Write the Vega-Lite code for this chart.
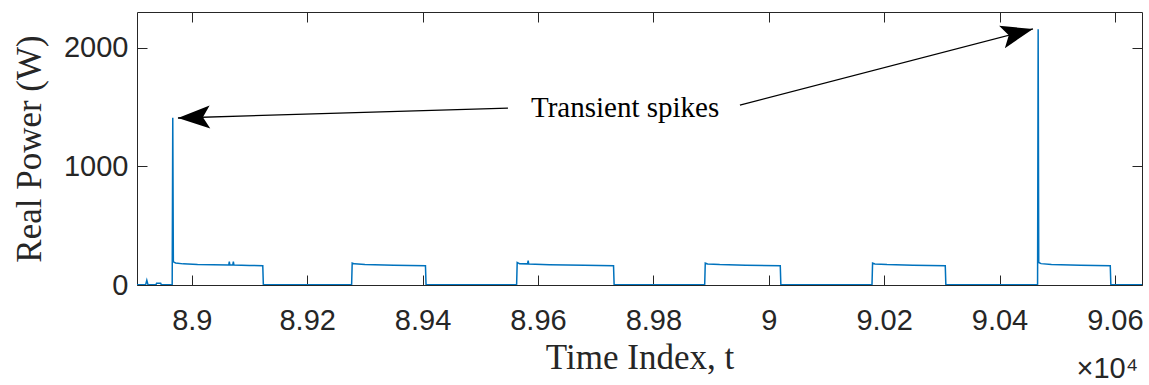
{
  "$schema": "https://vega.github.io/schema/vega-lite/v6.json",
  "width": 1005,
  "height": 273,
  "autosize": "none",
  "padding": {"left": 137, "top": 12, "right": 7, "bottom": 100},
  "background": "white",
  "title": {"text": "×10⁴", "orient": "bottom", "anchor": "end", "font": "Liberation Sans", "fontSize": 29, "fontWeight": "normal", "color": "#262626", "dx": -5, "offset": -20},
  "config": {
    "view": {"stroke": "#262626", "strokeWidth": 1},
    "axis": {
      "domain": false, "grid": false,
      "tickColor": "#262626", "tickSize": -10, "tickWidth": 1,
      "labelFont": "Liberation Sans", "labelFontSize": 29, "labelColor": "#262626", "labelFlush": false,
      "titleFont": "Liberation Serif", "titleFontSize": 35, "titleFontWeight": "normal", "titleColor": "#262626"
    }
  },
  "datasets": {
    "power": [
      {"t": 88905, "p": 3}, {"t": 88920, "p": 3}, {"t": 88922, "p": 40}, {"t": 88924, "p": 3},
      {"t": 88938, "p": 3}, {"t": 88939, "p": 15}, {"t": 88946, "p": 15}, {"t": 88947, "p": 3},
      {"t": 88966, "p": 3}, {"t": 88967, "p": 1410}, {"t": 88968, "p": 195}, {"t": 88972, "p": 186},
      {"t": 88985, "p": 178}, {"t": 89010, "p": 172}, {"t": 89064, "p": 168}, {"t": 89065, "p": 196},
      {"t": 89066, "p": 168}, {"t": 89071, "p": 168}, {"t": 89072, "p": 196}, {"t": 89073, "p": 168},
      {"t": 89100, "p": 165}, {"t": 89123, "p": 163}, {"t": 89124, "p": 3},
      {"t": 89277, "p": 3}, {"t": 89278, "p": 185}, {"t": 89282, "p": 178}, {"t": 89300, "p": 172},
      {"t": 89350, "p": 167}, {"t": 89405, "p": 163}, {"t": 89406, "p": 3},
      {"t": 89563, "p": 3}, {"t": 89564, "p": 190}, {"t": 89568, "p": 180}, {"t": 89582, "p": 178},
      {"t": 89583, "p": 205}, {"t": 89584, "p": 176}, {"t": 89620, "p": 170}, {"t": 89680, "p": 166},
      {"t": 89731, "p": 163}, {"t": 89732, "p": 3},
      {"t": 89889, "p": 3}, {"t": 89890, "p": 185}, {"t": 89894, "p": 177}, {"t": 89915, "p": 172},
      {"t": 89960, "p": 167}, {"t": 90020, "p": 163}, {"t": 90021, "p": 3},
      {"t": 90179, "p": 3}, {"t": 90180, "p": 185}, {"t": 90184, "p": 177}, {"t": 90205, "p": 172},
      {"t": 90250, "p": 167}, {"t": 90306, "p": 162}, {"t": 90307, "p": 3},
      {"t": 90466, "p": 3}, {"t": 90467, "p": 2155}, {"t": 90468, "p": 190}, {"t": 90472, "p": 180},
      {"t": 90490, "p": 173}, {"t": 90540, "p": 167}, {"t": 90592, "p": 162}, {"t": 90593, "p": 3},
      {"t": 90647, "p": 3}
    ],
    "arrows": [
      {"id": "a1", "t0": 89548, "p0": 1491, "t1": 88976, "p1": 1407},
      {"id": "a2", "t0": 89950, "p0": 1516, "t1": 90458, "p1": 2157}
    ],
    "label": [{"t": 89751, "p": 1491, "text": "Transient spikes"}]
  },
  "layer": [
    {
      "data": {"name": "power"},
      "mark": {"type": "line", "color": "#0072BD", "strokeWidth": 1.5, "clip": true},
      "encoding": {
        "x": {"field": "t", "type": "quantitative", "scale": {"domain": [88905, 90647], "nice": false, "zero": false},
              "axis": {"orient": "bottom", "values": [89000, 89200, 89400, 89600, 89800, 90000, 90200, 90400, 90600],
                       "labelExpr": "format(datum.value/10000, '.3~g')", "labelPadding": 31, "title": "Time Index, t", "titlePadding": 5}},
        "y": {"field": "p", "type": "quantitative", "scale": {"domain": [0, 2300], "nice": false},
              "axis": {"orient": "left", "values": [0, 1000, 2000], "format": "d", "labelPadding": 19, "title": "Real Power (W)", "titlePadding": 16}}
      }
    },
    {
      "data": {"name": "arrows"},
      "mark": {"type": "rule", "color": "black", "strokeWidth": 1.3},
      "encoding": {
        "x": {"field": "t0", "type": "quantitative", "axis": null},
        "y": {"field": "p0", "type": "quantitative", "axis": null},
        "x2": {"field": "t1"},
        "y2": {"field": "p1"}
      }
    },
    {
      "data": {"name": "arrows"},
      "transform": [{"filter": "datum.id == 'a1'"}],
      "mark": {"type": "point", "shape": "M0,0L-1,-0.36L-0.78,0L-1,0.36Z", "size": 4096, "angle": 178.3, "filled": true, "color": "black", "opacity": 1, "strokeWidth": 0},
      "encoding": {
        "x": {"field": "t1", "type": "quantitative", "axis": null},
        "y": {"field": "p1", "type": "quantitative", "axis": null}
      }
    },
    {
      "data": {"name": "arrows"},
      "transform": [{"filter": "datum.id == 'a2'"}],
      "mark": {"type": "point", "shape": "M0,0L-1,-0.36L-0.78,0L-1,0.36Z", "size": 4096, "angle": 345.5, "filled": true, "color": "black", "opacity": 1, "strokeWidth": 0},
      "encoding": {
        "x": {"field": "t1", "type": "quantitative", "axis": null},
        "y": {"field": "p1", "type": "quantitative", "axis": null}
      }
    },
    {
      "data": {"name": "label"},
      "mark": {"type": "text", "font": "Liberation Serif", "fontSize": 29, "color": "black", "align": "center", "baseline": "middle"},
      "encoding": {
        "x": {"field": "t", "type": "quantitative", "axis": null},
        "y": {"field": "p", "type": "quantitative", "axis": null},
        "text": {"field": "text"}
      }
    },
    {
      "data": {"name": "label"},
      "mark": {"type": "point", "opacity": 0},
      "encoding": {
        "x": {"field": "t", "type": "quantitative",
              "axis": {"orient": "top", "values": [89000, 89200, 89400, 89600, 89800, 90000, 90200, 90400, 90600], "labels": false, "title": null}},
        "y": {"field": "p", "type": "quantitative",
              "axis": {"orient": "right", "values": [0, 1000, 2000], "labels": false, "title": null}}
      }
    }
  ],
  "resolve": {"axis": {"x": "independent", "y": "independent"}}
}
